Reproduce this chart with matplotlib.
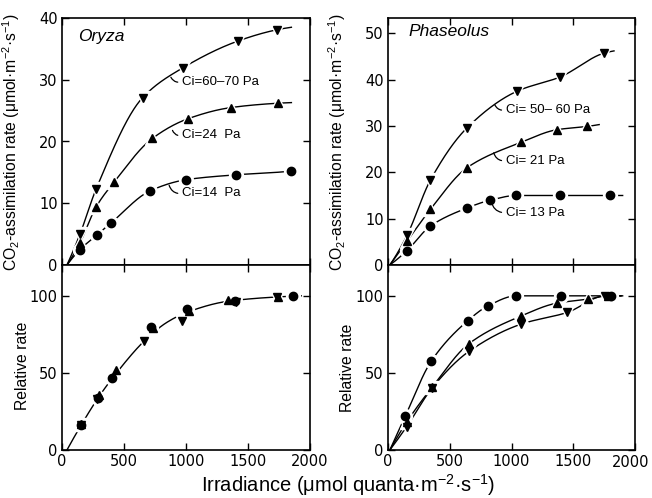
import numpy as np
import matplotlib
matplotlib.use("Agg")
import matplotlib.pyplot as plt

# ---------------- data ----------------
# Oryza, CO2 assimilation rate (umol m-2 s-1)
ory_hi_x = [145, 275, 650, 972, 1423, 1734]
ory_hi_y = [5.0, 12.3, 27.1, 31.9, 36.3, 38.1]
ory_mid_x = [145, 275, 419, 729, 1018, 1364, 1742]
ory_mid_y = [3.6, 9.4, 13.4, 20.5, 23.7, 25.5, 26.2]
ory_lo_x = [145, 284, 395, 710, 997, 1400, 1846]
ory_lo_y = [2.5, 4.9, 6.8, 12.0, 13.8, 14.6, 15.2]
ory_curve_start = [40, 40, 40]            # hi, mid, lo
ory_curve_end_x = [1850, 1850, 1880]
ory_curve_end_y = [38.5, 26.3, 15.3]

# Phaseolus, CO2 assimilation rate
pha_hi_x = [154, 343, 640, 1045, 1396, 1747]
pha_hi_y = [6.4, 18.3, 29.6, 37.5, 40.6, 45.7]
pha_mid_x = [154, 343, 640, 1080, 1369, 1612]
pha_mid_y = [5.1, 12.0, 21.0, 26.5, 29.2, 29.9]
pha_lo_x = [154, 343, 640, 829, 1040, 1391, 1796]
pha_lo_y = [3.1, 8.4, 12.3, 14.0, 15.0, 15.0, 15.0]
pha_curve_start = [15, 15, 15]
pha_curve_end_x = [1830, 1710, 1900]
pha_curve_end_y = [46.2, 30.3, 15.0]

# Oryza, relative rate (%)
ory_rel_hi_x = [150, 280, 665, 965, 1400, 1735]
ory_rel_hi_y = [16, 33, 71, 83.5, 96, 99.5]
ory_rel_mid_x = [150, 295, 435, 735, 1025, 1340, 1745]
ory_rel_mid_y = [17, 35.5, 52, 79, 90, 97, 99.5]
ory_rel_lo_x = [155, 290, 400, 720, 1005, 1395, 1865]
ory_rel_lo_y = [16, 34, 46.5, 80, 91.5, 96.5, 100]
ory_rel_curve_x = [40, 157, 297, 420, 680, 850, 1013, 1340, 1740, 1930]
ory_rel_curve_y = [0, 16.5, 34.5, 48, 72, 83, 89.5, 96.5, 99.3, 100]

# Phaseolus, relative rate (%)
pha_rel_hi_x = [150, 360, 656, 1080, 1450, 1760]
pha_rel_hi_y = [15, 40.5, 64, 81.7, 89.2, 100]
pha_rel_mid_x = [150, 360, 656, 1080, 1369, 1620, 1780]
pha_rel_mid_y = [18, 41, 69, 87, 95.3, 97.8, 100]
pha_rel_lo_x = [140, 350, 648, 810, 1040, 1404, 1804]
pha_rel_lo_y = [22, 57.6, 84, 93.5, 100, 100, 100]
pha_rel_curve_start = [15, 15, 15]
pha_rel_curve_end_x = [1880, 1890, 1900]

ory_labels = ["Ci=60\u201370 Pa", "Ci=24  Pa", "Ci=14  Pa"]
pha_labels = ["Ci= 50\u2013 60 Pa", "Ci= 21 Pa", "Ci= 13 Pa"]
# label anchor (curve point) and text position, data coords
ory_lab_xy = [(878, 30.4), (891, 21.8), (864, 12.9)]
ory_lab_txt = [(967, 29.7), (967, 21.0), (967, 11.6)]
pha_lab_xy = [(864, 34.6), (856, 24.2), (837, 13.6)]
pha_lab_txt = [(953, 33.5), (953, 22.5), (953, 11.3)]

xticks = [0, 500, 1000, 1500, 2000]
xtick_labels = ["0", "500", "1000", "1500", "2000"]

# ---------------- helpers ----------------
def pchip(x, y, xs):
    x = np.asarray(x, float); y = np.asarray(y, float)
    h = np.diff(x); d = np.diff(y) / h
    n = len(x); m = np.zeros(n)
    for k in range(1, n - 1):
        if d[k - 1] * d[k] <= 0:
            m[k] = 0.0
        else:
            w1 = 2 * h[k] + h[k - 1]; w2 = h[k] + 2 * h[k - 1]
            m[k] = (w1 + w2) / (w1 / d[k - 1] + w2 / d[k])
    def endslope(h0, h1, d0, d1):
        s = ((2 * h0 + h1) * d0 - h0 * d1) / (h0 + h1)
        if np.sign(s) != np.sign(d0):
            s = 0.0
        elif np.sign(d0) != np.sign(d1) and abs(s) > abs(3 * d0):
            s = 3 * d0
        return s
    if n > 2:
        m[0] = endslope(h[0], h[1], d[0], d[1])
        m[-1] = endslope(h[-1], h[-2], d[-1], d[-2])
    else:
        m[:] = d[0]
    xs = np.asarray(xs, float)
    idx = np.clip(np.searchsorted(x, xs) - 1, 0, n - 2)
    t = (xs - x[idx]) / h[idx]
    h00 = 2 * t**3 - 3 * t**2 + 1; h10 = t**3 - 2 * t**2 + t
    h01 = -2 * t**3 + 3 * t**2; h11 = t**3 - t**2
    return h00 * y[idx] + h10 * h[idx] * m[idx] + h01 * y[idx + 1] + h11 * h[idx] * m[idx + 1]

def curve(ax, kx, ky):
    order = np.argsort(kx)
    kx = np.asarray(kx, float)[order]; ky = np.asarray(ky, float)[order]
    xs = np.linspace(kx[0], kx[-1], 400)
    ax.plot(xs, pchip(kx, ky, xs), color="black", lw=1.0, zorder=2)

def markers(ax, x, y, m, ms):
    ax.plot(x, y, ls="none", marker=m, ms=ms + 4, color="white", mec="white", zorder=3)
    ax.plot(x, y, ls="none", marker=m, ms=ms, color="black", mec="black", zorder=4)

TXT = ["Liberation Sans", "DejaVu Sans"]
plt.rcParams["mathtext.fontset"] = "custom"
plt.rcParams["mathtext.rm"] = "Liberation Sans"
plt.rcParams["mathtext.it"] = "Liberation Sans:italic"

fig = plt.figure(figsize=(6.52, 4.98), dpi=100)
W, H = 652.0, 498.0
def box(l, t, r, b):
    return [l / W, 1 - b / H, (r - l) / W, (b - t) / H]

ax_ot = fig.add_axes(box(62, 18, 310, 265))
ax_ob = fig.add_axes(box(62, 265, 310, 450))
ax_pt = fig.add_axes(box(388, 18, 635, 265))
ax_pb = fig.add_axes(box(388, 265, 635, 450))

TICKSIZE = 10.5
for ax in (ax_ot, ax_ob, ax_pt, ax_pb):
    ax.set_xlim(0, 2000)
    ax.set_xticks(xticks)
    ax.tick_params(direction="in", length=5, width=1.0, top=True, right=True,
                   labelsize=TICKSIZE, pad=3)
    for s in ax.spines.values():
        s.set_linewidth(1.2)
for ax in (ax_ot, ax_pt):
    ax.tick_params(labelbottom=False)
ax_ob.set_xticklabels(xtick_labels)
# last label of the right panel drawn slightly left so that it stays inside the figure
ax_pb.set_xticklabels(xtick_labels[:-1] + [""])
ax_pb.annotate(xtick_labels[-1], xy=(xticks[-1], 0), xycoords=ax_pb.get_xaxis_transform(),
               xytext=(-3, -3.5), textcoords="offset points", ha="center", va="top",
               fontsize=TICKSIZE)

ax_ot.set_ylim(0, 40); ax_ot.set_yticks([0, 10, 20, 30, 40])
ax_pt.set_ylim(0, 53.3); ax_pt.set_yticks([0, 10, 20, 30, 40, 50])
for ax in (ax_ob, ax_pb):
    ax.set_ylim(0, 120); ax.set_yticks([0, 50, 100])

MS = {"v": 6, "^": 6, "o": 6}

# Oryza top
series = [(ory_hi_x, ory_hi_y, "v"), (ory_mid_x, ory_mid_y, "^"), (ory_lo_x, ory_lo_y, "o")]
for i, (x, y, m) in enumerate(series):
    curve(ax_ot, [ory_curve_start[i]] + x + [ory_curve_end_x[i]], [0] + y + [ory_curve_end_y[i]])
    markers(ax_ot, x, y, m, MS[m])
# Phaseolus top
series = [(pha_hi_x, pha_hi_y, "v"), (pha_mid_x, pha_mid_y, "^"), (pha_lo_x, pha_lo_y, "o")]
for i, (x, y, m) in enumerate(series):
    curve(ax_pt, [pha_curve_start[i]] + x + [pha_curve_end_x[i]], [0] + y + [pha_curve_end_y[i]])
    markers(ax_pt, x, y, m, MS[m])
# Oryza relative
curve(ax_ob, ory_rel_curve_x, ory_rel_curve_y)
for x, y, m in [(ory_rel_hi_x, ory_rel_hi_y, "v"), (ory_rel_mid_x, ory_rel_mid_y, "^"),
                (ory_rel_lo_x, ory_rel_lo_y, "o")]:
    markers(ax_ob, x, y, m, MS[m])
# Phaseolus relative
series = [(pha_rel_hi_x, pha_rel_hi_y, "v"), (pha_rel_mid_x, pha_rel_mid_y, "^"),
          (pha_rel_lo_x, pha_rel_lo_y, "o")]
for i, (x, y, m) in enumerate(series):
    curve(ax_pb, [pha_rel_curve_start[i]] + x + [pha_rel_curve_end_x[i]], [0] + y + [100])
    markers(ax_pb, x, y, m, MS[m])

# curve labels with small leader lines
for ax, labs, xy, txt in [(ax_ot, ory_labels, ory_lab_xy, ory_lab_txt),
                          (ax_pt, pha_labels, pha_lab_xy, pha_lab_txt)]:
    for lab, p, t in zip(labs, xy, txt):
        ax.annotate(lab, xy=p, xytext=t, ha="left", va="center", fontsize=9.5, family=TXT,
                    arrowprops=dict(arrowstyle="-", lw=0.9, color="black", relpos=(0, 0.5),
                                    connectionstyle="arc3,rad=-0.4", shrinkA=1, shrinkB=0),
                    zorder=5)

ax_ot.text(0.065, 0.925, "Oryza", transform=ax_ot.transAxes, fontsize=12.5, style="italic",
           family=TXT, ha="left", va="center")
ax_pt.text(0.081, 0.945, "Phaseolus", transform=ax_pt.transAxes, fontsize=12.5, style="italic",
           family=TXT, ha="left", va="center")

ylab = "CO$_2$-assimilation rate (\u03bcmol\u00b7m$^{-2}$\u00b7s$^{-1}$)"
fig.text(11 / W, 1 - 142 / H, ylab, rotation=90, ha="center", va="center", fontsize=11.3, family=TXT)
fig.text(337 / W, 1 - 142 / H, ylab, rotation=90, ha="center", va="center", fontsize=11.3, family=TXT)
fig.text(23 / W, 1 - 366 / H, "Relative rate", rotation=90, ha="center", va="center", fontsize=11.3, family=TXT)
fig.text(347 / W, 1 - 368 / H, "Relative rate", rotation=90, ha="center", va="center", fontsize=11.3, family=TXT)
fig.text(348 / W, 1 - 485 / H, "Irradiance (\u03bcmol quanta\u00b7m$^{-2}$\u00b7s$^{-1}$)",
         ha="center", va="center", fontsize=14.5, family=TXT)

fig.savefig("out.png", dpi=100)
